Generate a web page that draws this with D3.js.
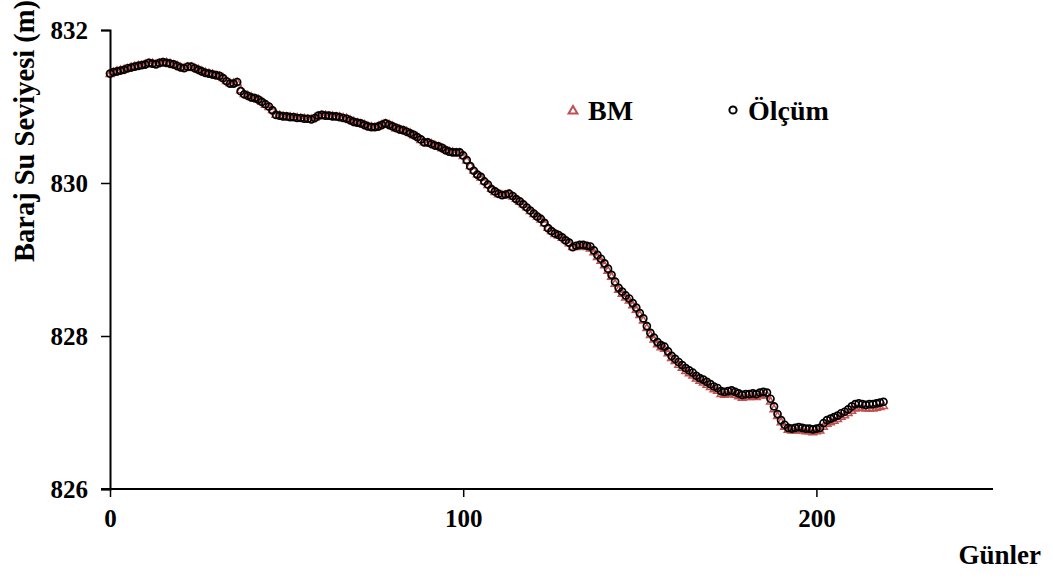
<!DOCTYPE html>
<html>
<head>
<meta charset="utf-8">
<script src="https://cdn.jsdelivr.net/npm/d3@7"></script>
<style>
  html, body { margin: 0; padding: 0; background: #fff; }
  svg text { font-family: "Liberation Serif", "Times New Roman", serif; font-weight: bold; fill: #000; }
</style>
</head>
<body>
<svg id="chart" width="1053" height="586"></svg>
<script>
// Daily reservoir water level (m): measured (Ölçüm) and model (BM), days 0..219
const olcum = [
  831.43, 831.45, 831.46, 831.47, 831.48, 831.50, 831.51, 831.52, 831.53, 831.54,
  831.55, 831.57, 831.56, 831.55, 831.57, 831.58, 831.57, 831.56, 831.55, 831.53,
  831.51, 831.50, 831.52, 831.52, 831.50, 831.48, 831.46, 831.44, 831.43, 831.42,
  831.41, 831.40, 831.37, 831.33, 831.30, 831.30, 831.32, 831.20, 831.16, 831.14,
  831.12, 831.11, 831.09, 831.06, 831.03, 831.00, 830.95, 830.89, 830.88, 830.87,
  830.87, 830.86, 830.86, 830.85, 830.85, 830.84, 830.84, 830.83, 830.85, 830.88,
  830.89, 830.88, 830.88, 830.87, 830.87, 830.86, 830.85, 830.84, 830.82, 830.80,
  830.79, 830.78, 830.76, 830.74, 830.73, 830.73, 830.74, 830.76, 830.78, 830.76,
  830.74, 830.72, 830.70, 830.69, 830.67, 830.65, 830.63, 830.60, 830.57, 830.53,
  830.53, 830.51, 830.49, 830.48, 830.46, 830.43, 830.41, 830.40, 830.40, 830.40,
  830.36, 830.30, 830.22, 830.16, 830.11, 830.08, 830.02, 829.98, 829.92, 829.89,
  829.86, 829.84, 829.85, 829.86, 829.83, 829.79, 829.76, 829.72, 829.68, 829.64,
  829.60, 829.56, 829.53, 829.48, 829.41, 829.37, 829.34, 829.32, 829.29, 829.25,
  829.22, 829.16, 829.18, 829.19, 829.19, 829.18, 829.17, 829.12, 829.06, 829.01,
  828.95, 828.88, 828.80, 828.71, 828.63, 828.58, 828.53, 828.49, 828.43, 828.37,
  828.30, 828.23, 828.13, 828.04, 827.98, 827.92, 827.88, 827.86, 827.80, 827.74,
  827.70, 827.66, 827.62, 827.58, 827.55, 827.52, 827.48, 827.45, 827.43, 827.40,
  827.37, 827.34, 827.32, 827.28, 827.27, 827.28, 827.29, 827.27, 827.25, 827.23,
  827.24, 827.24, 827.25, 827.24, 827.26, 827.27, 827.26, 827.18, 827.08, 826.98,
  826.90, 826.84, 826.80, 826.79, 826.80, 826.81, 826.80, 826.79, 826.79, 826.78,
  826.79, 826.80, 826.86, 826.90, 826.92, 826.94, 826.96, 826.99, 827.01, 827.04,
  827.08, 827.11, 827.12, 827.11, 827.10, 827.11, 827.11, 827.12, 827.13, 827.14
];

const bm = [
  831.42, 831.44, 831.46, 831.47, 831.48, 831.49, 831.51, 831.52, 831.53, 831.53,
  831.55, 831.56, 831.56, 831.55, 831.56, 831.57, 831.57, 831.56, 831.54, 831.53,
  831.51, 831.50, 831.51, 831.51, 831.50, 831.48, 831.46, 831.44, 831.43, 831.42,
  831.40, 831.39, 831.37, 831.33, 831.30, 831.30, 831.31, 831.21, 831.16, 831.14,
  831.12, 831.10, 831.09, 831.06, 831.02, 830.99, 830.95, 830.89, 830.88, 830.87,
  830.86, 830.86, 830.85, 830.85, 830.84, 830.84, 830.83, 830.83, 830.85, 830.87,
  830.88, 830.88, 830.87, 830.87, 830.86, 830.86, 830.85, 830.84, 830.82, 830.80,
  830.78, 830.77, 830.76, 830.74, 830.73, 830.72, 830.74, 830.76, 830.77, 830.76,
  830.74, 830.71, 830.70, 830.68, 830.67, 830.65, 830.62, 830.60, 830.56, 830.53,
  830.52, 830.51, 830.49, 830.47, 830.45, 830.43, 830.41, 830.40, 830.39, 830.39,
  830.35, 830.29, 830.22, 830.16, 830.11, 830.07, 830.02, 829.97, 829.92, 829.88,
  829.85, 829.84, 829.84, 829.85, 829.82, 829.79, 829.75, 829.72, 829.68, 829.63,
  829.59, 829.56, 829.52, 829.47, 829.41, 829.37, 829.33, 829.31, 829.28, 829.25,
  829.21, 829.16, 829.16, 829.17, 829.17, 829.16, 829.14, 829.09, 829.03, 828.98,
  828.92, 828.85, 828.77, 828.68, 828.60, 828.55, 828.50, 828.46, 828.40, 828.34,
  828.27, 828.20, 828.10, 828.01, 827.95, 827.89, 827.85, 827.83, 827.77, 827.71,
  827.67, 827.62, 827.58, 827.54, 827.51, 827.48, 827.44, 827.41, 827.39, 827.36,
  827.33, 827.30, 827.28, 827.24, 827.23, 827.24, 827.25, 827.23, 827.21, 827.19,
  827.20, 827.20, 827.21, 827.20, 827.22, 827.23, 827.22, 827.14, 827.04, 826.95,
  826.87, 826.81, 826.77, 826.76, 826.76, 826.77, 826.76, 826.75, 826.75, 826.74,
  826.75, 826.76, 826.81, 826.85, 826.87, 826.89, 826.91, 826.94, 826.96, 826.99,
  827.02, 827.05, 827.06, 827.06, 827.05, 827.05, 827.05, 827.06, 827.07, 827.08
];

const xTicks = [0, 100, 200];
const yTicks = [826, 828, 830, 832];
const seriesNames = ["BM", "Ölçüm"];
const xTitle = "Günler";
const yTitle = "Baraj Su Seviyesi (m)";

const svg = d3.select("#chart");
const x = d3.scaleLinear().domain([0, 250]).range([110, 993]);
const y = d3.scaleLinear().domain([826, 832]).range([489, 30]);

const red = "#c0504d";

// axes
const xAxis = svg.append("g")
  .attr("transform", `translate(0,${y(826)})`)
  .call(d3.axisBottom(x).tickValues(xTicks).tickSize(8).tickPadding(12).tickFormat(d3.format("d")));
const yAxis = svg.append("g")
  .attr("transform", `translate(${x(0)},0)`)
  .call(d3.axisLeft(y).tickValues(yTicks).tickSize(9).tickPadding(13).tickFormat(d3.format("d")));

[xAxis, yAxis].forEach(g => {
  g.select(".domain").attr("stroke", "#000").attr("stroke-width", 2);
  g.selectAll(".tick line").attr("stroke", "#000").attr("stroke-width", 1.5);
  g.selectAll(".tick text").style("font-size", "25px").attr("fill", "#000");
});
// x domain line extends slightly left of the y axis like the tick at 826
xAxis.select(".domain").attr("d", `M${x(0) - 9},0H${x(250)}`);

// axis titles
svg.append("text")
  .attr("transform", "translate(34,131) rotate(-90)")
  .attr("text-anchor", "middle")
  .style("font-size", "28.5px")
  .text(yTitle);

svg.append("text")
  .attr("x", 1041).attr("y", 564)
  .attr("text-anchor", "end")
  .style("font-size", "27px")
  .text(xTitle);

// model series: triangles (drawn beneath the measured circles)
const tri = d3.symbol().type(d3.symbolTriangle).size(26);
svg.append("g").selectAll("path")
  .data(bm)
  .join("path")
  .attr("d", tri)
  .attr("transform", (d, i) => `translate(${x(i)},${y(d)})`)
  .attr("fill", "none")
  .attr("stroke", red)
  .attr("stroke-width", 1.5);

// measured series: hollow circles
svg.append("g").selectAll("circle")
  .data(olcum)
  .join("circle")
  .attr("cx", (d, i) => x(i))
  .attr("cy", d => y(d))
  .attr("r", 3.5)
  .attr("fill", "none")
  .attr("stroke", "#000")
  .attr("stroke-width", 1.7);

// legend
const legend = svg.append("g");
legend.append("path")
  .attr("d", d3.symbol().type(d3.symbolTriangle).size(34))
  .attr("transform", "translate(573,111)")
  .attr("fill", "none").attr("stroke", red).attr("stroke-width", 2);
legend.append("text").attr("x", 588).attr("y", 120).style("font-size", "28px").text(seriesNames[0]);
legend.append("circle")
  .attr("cx", 733).attr("cy", 110).attr("r", 3.6)
  .attr("fill", "none").attr("stroke", "#000").attr("stroke-width", 2);
legend.append("text").attr("x", 748).attr("y", 120).style("font-size", "28px").text(seriesNames[1]);
</script>
</body>
</html>
